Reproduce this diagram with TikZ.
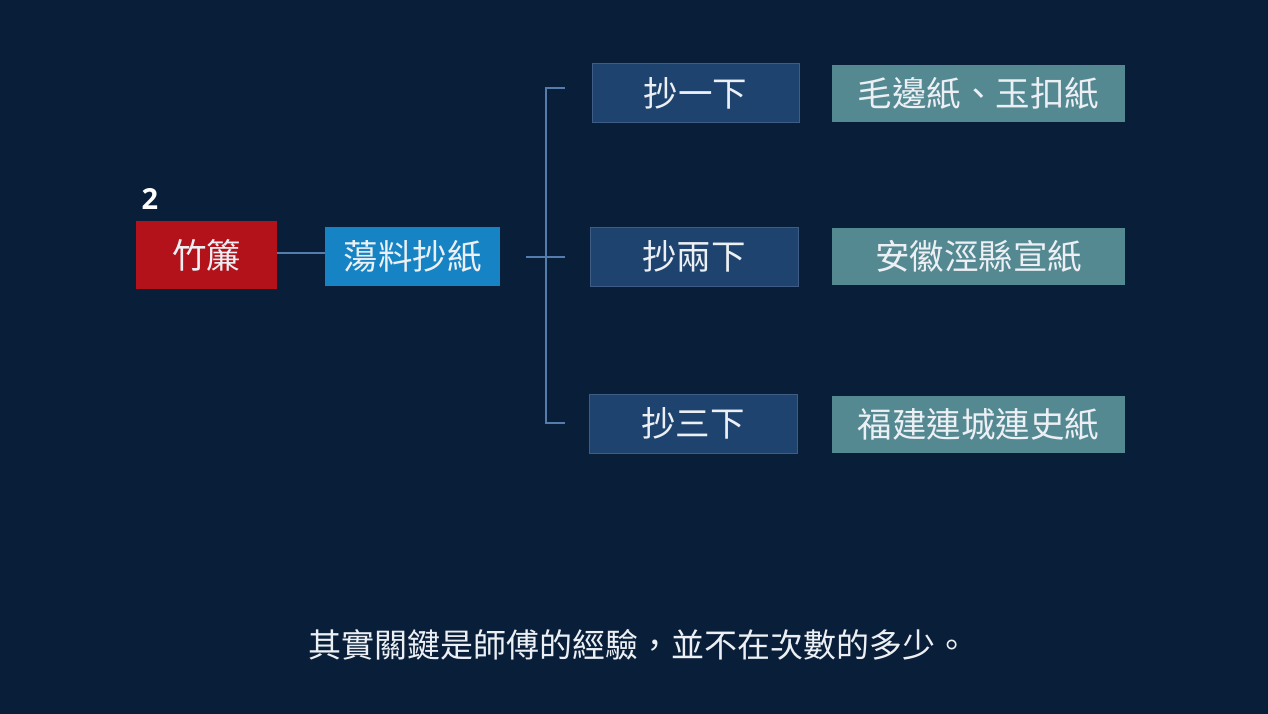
\documentclass[tikz,border=0pt]{standalone}
\usepackage{fontspec}
\setmainfont{Noto Sans CJK TC}
\newfontfamily\digitfont{Open Sans}
\definecolor{bgc}{RGB}{9,30,57}
\definecolor{redc}{RGB}{180,18,26}
\definecolor{bluec}{RGB}{22,132,196}
\definecolor{darkc}{RGB}{31,67,111}
\definecolor{darkedge}{RGB}{62,92,132}
\definecolor{tealc}{RGB}{84,137,146}
\definecolor{linec}{RGB}{84,124,172}
\definecolor{txtc}{RGB}{236,240,244}
\tikzset{
  box/.style={inner sep=0pt, text=txtc, font=\fontsize{34.5}{37}\selectfont},
  darkbox/.style={box, fill=darkc, draw=darkedge, line width=1pt},
  tealbox/.style={box, fill=tealc},
  conn/.style={draw=linec, line width=2pt}
}
\begin{document}
\begin{tikzpicture}[x=1pt,y=-1pt]
\fill[bgc] (0,0) rectangle (1268,714);
\useasboundingbox (0,0) rectangle (1268,714);
% left nodes
\node[box, fill=redc, minimum width=141pt, minimum height=68pt] (zl) at (206.5,255) {竹簾};
\node[text=white, font=\digitfont\bfseries\fontsize{29}{31}\selectfont] (num) at (150,199) {2};
\node[box, fill=bluec, minimum width=175pt, minimum height=59pt] (dl) at (412.5,256.5) {蕩料抄紙};
\draw[conn] (zl.east |- 0,253) -- (dl.west |- 0,253);
% bracket
\coordinate (bm) at (526,257);
\coordinate (bx) at (546,257);
\coordinate (be) at (565,257);
\coordinate (bt) at (546,88);
\coordinate (bte) at (565,88);
\coordinate (bb) at (546,423);
\coordinate (bbe) at (565,423);
\draw[conn] (bte) -- (bt) -- (bb) -- (bbe);
\draw[conn] (bm) -- (be);
% right nodes
\node[darkbox, minimum width=207pt, minimum height=59pt] (c1) at (695.5,93.5) {抄一下};
\node[darkbox, minimum width=208pt, minimum height=59pt] (c2) at (694,256.5) {抄兩下};
\node[darkbox, minimum width=208pt, minimum height=59pt] (c3) at (693,423.5) {抄三下};
\node[tealbox, minimum width=293pt, minimum height=57pt] (t1) at (978.5,93.5) {毛邊紙、玉扣紙};
\node[tealbox, minimum width=293pt, minimum height=57pt] (t2) at (978.5,256.5) {安徽涇縣宣紙};
\node[tealbox, minimum width=293pt, minimum height=57pt] (t3) at (978.5,424.5) {福建連城連史紙};
% subtitle
\node[text=txtc, font=\fontsize{33}{35}\selectfont, inner sep=0pt] (sub) at (638,645) {其實關鍵是師傅的經驗，並不在次數的多少。};
\end{tikzpicture}
\end{document}
